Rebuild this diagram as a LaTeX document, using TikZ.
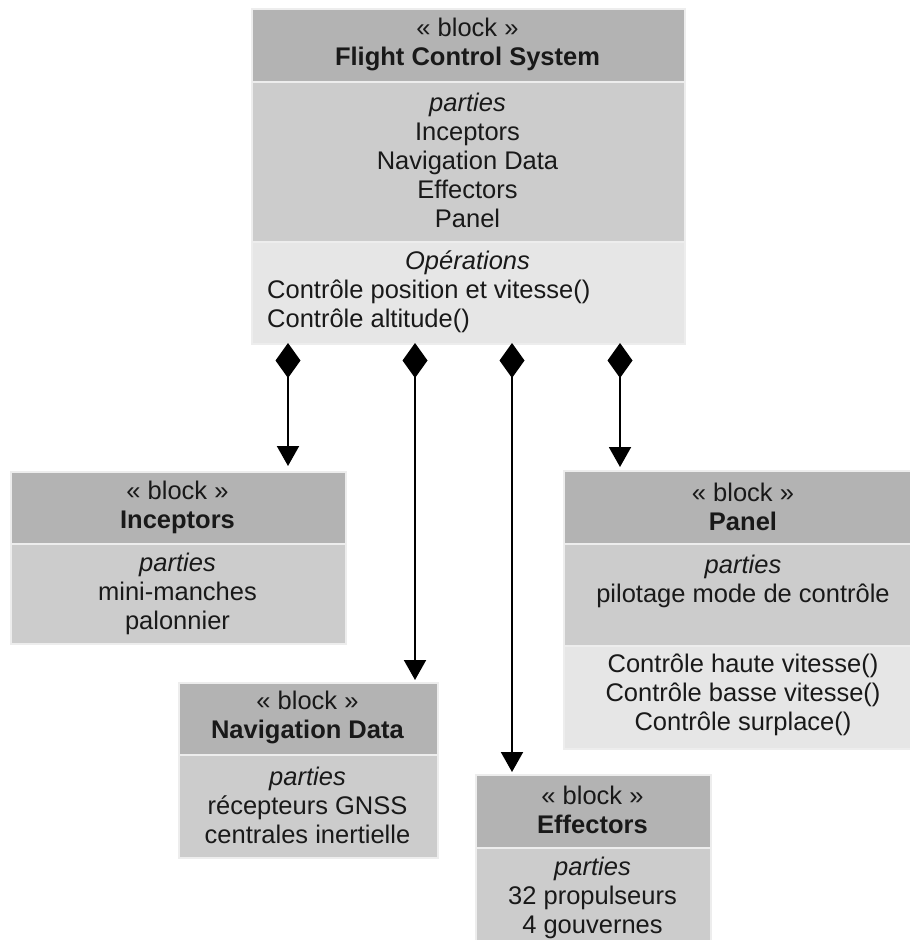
\documentclass[tikz,border=0pt]{standalone}
\usepackage{fontspec}
\setmainfont{Liberation Sans}
\usetikzlibrary{arrows.meta}
\definecolor{hdr}{HTML}{B3B3B3}
\definecolor{prt}{HTML}{CCCCCC}
\definecolor{opc}{HTML}{E6E6E6}
\definecolor{edgec}{HTML}{EDEDED}
\begin{document}
\begin{tikzpicture}[x=1pt,y=-1pt,
  sec/.style={draw=edgec,line width=1.5pt,rectangle,inner sep=0pt,anchor=north west},
  hsec/.style={sec,fill=hdr},
  psec/.style={sec,fill=prt},
  osec/.style={sec,fill=opc},
  txt/.style={inner sep=0pt,align=center,font=\fontsize{25.5}{29}\selectfont,text=black!90},
  comp/.style={line width=2pt,{Diamond[length=35pt,width=25pt]}-{Triangle[length=20pt,width=22pt]}}
]
\useasboundingbox (0,0) rectangle (910,940);
\clip (0,0) rectangle (910,940);
% Flight Control System
\node[hsec,minimum width=433pt,minimum height=73pt] (fcsh) at (251,8) {};
\node[psec,minimum width=433pt,minimum height=160pt] (fcsp) at (251,81) {};
\node[osec,minimum width=433pt,minimum height=102pt] (fcso) at (251,241) {};
\node[txt] (fcsht) at (467.5,44) {« block »\\\textbf{Flight Control System}};
\node[txt] (fcspt) at (467.5,160) {\textit{parties}\\Inceptors\\Navigation Data\\Effectors\\Panel};
\node[txt] (fcsot1) at (467.5,263) {\textit{Opérations}};
\node[txt,align=left,anchor=west] (fcsot2) at (267,306) {Contrôle position et vitesse()\\Contrôle altitude()};
% Inceptors
\node[hsec,minimum width=335pt,minimum height=72pt] (inch) at (10,471) {};
\node[psec,minimum width=335pt,minimum height=100pt] (incp) at (10,543) {};
\node[txt] (incht) at (177.5,507) {« block »\\\textbf{Inceptors}};
\node[txt] (incpt) at (177.5,594) {\textit{parties}\\mini-manches\\palonnier};
% Navigation Data
\node[hsec,minimum width=259pt,minimum height=72pt] (navh) at (178,682) {};
\node[psec,minimum width=259pt,minimum height=103pt] (navp) at (178,754) {};
\node[txt] (navht) at (307.5,717) {« block »\\\textbf{Navigation Data}};
\node[txt] (navpt) at (307.5,805) {\textit{parties}\\récepteurs GNSS\\centrales inertielle};
% Effectors
\node[hsec,minimum width=235pt,minimum height=73pt] (effh) at (475,774) {};
\node[psec,minimum width=235pt,minimum height=120pt] (effp) at (475,847) {};
\node[txt] (effht) at (592.5,810) {« block »\\\textbf{Effectors}};
\node[txt] (effpt) at (592.5,898) {\textit{parties}\\32 propulseurs\\4 gouvernes};
% Panel
\node[hsec,minimum width=360pt,minimum height=73pt] (panh) at (563,470) {};
\node[psec,minimum width=360pt,minimum height=102pt] (panp) at (563,543) {};
\node[osec,minimum width=360pt,minimum height=103pt] (pano) at (563,645) {};
\node[txt] (panht) at (743,506.5) {« block »\\\textbf{Panel}};
\node[txt] (panpt) at (743,581) {\textit{parties}\\pilotage mode de contrôle};
\node[txt] (panot) at (743,695) {Contrôle haute vitesse()\\Contrôle basse vitesse()\\Contrôle surplace()};
% connectors
\coordinate (c1) at (288,343);
\coordinate (c2) at (415,343);
\coordinate (c3) at (512,343);
\coordinate (c4) at (620,343);
\draw[comp,shorten >=5pt] (c1) -- (c1 |- inch.north);
\draw[comp,shorten >=2pt] (c2) -- (c2 |- navh.north);
\draw[comp,shorten >=2pt] (c3) -- (c3 |- effh.north);
\draw[comp,shorten >=3pt] (c4) -- (c4 |- panh.north);
\end{tikzpicture}
\end{document}
